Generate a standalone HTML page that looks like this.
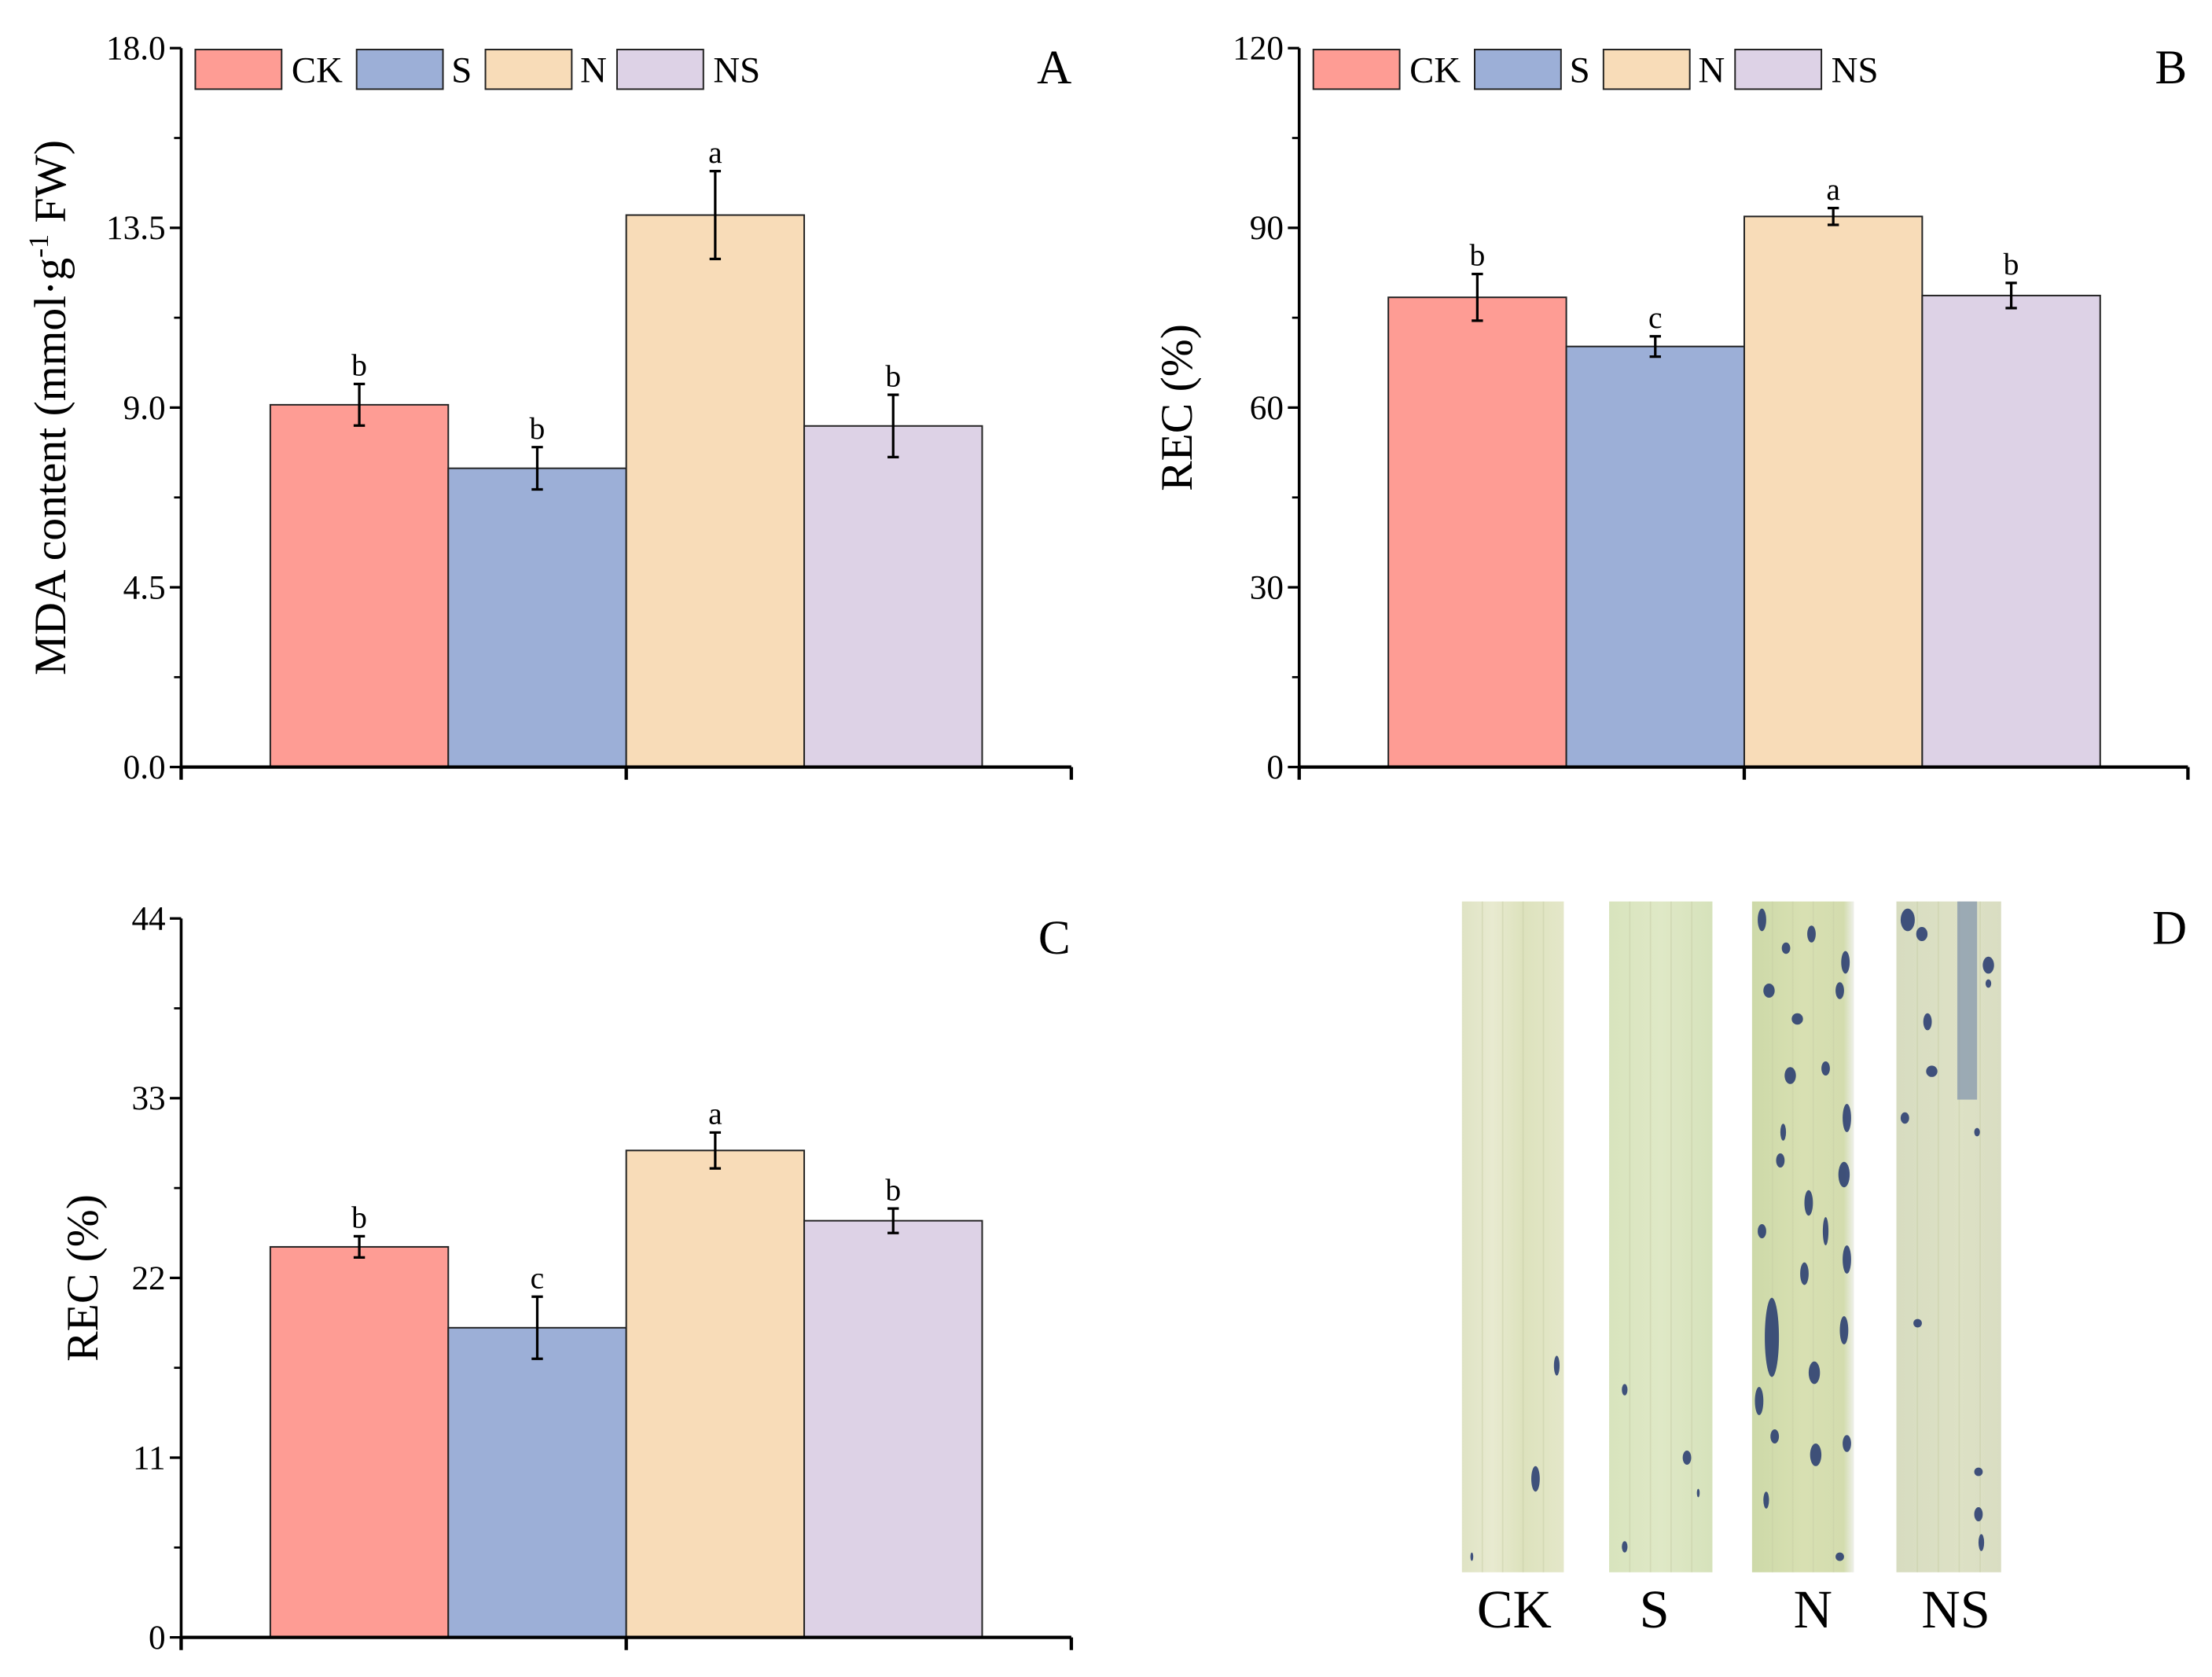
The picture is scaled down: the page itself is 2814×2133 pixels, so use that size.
<!DOCTYPE html>
<html><head><meta charset="utf-8"><style>
html,body{margin:0;padding:0;background:#fff}
svg{display:block}
text{font-family:"Liberation Serif",serif;fill:#000}
</style></head><body>
<svg id="fig" width="2814" height="2133" viewBox="0 0 1563 1185" preserveAspectRatio="none" xmlns="http://www.w3.org/2000/svg">
<defs>
<linearGradient id="leafG" x1="0" x2="1" y1="0" y2="0">
<stop offset="0" stop-color="#dfe3c4"/><stop offset="0.3" stop-color="#e8ead0"/><stop offset="0.6" stop-color="#dde2bd"/><stop offset="1" stop-color="#e4e7c9"/>
</linearGradient>
<linearGradient id="leafS" x1="0" x2="1"><stop offset="0" stop-color="#d8e4bd"/><stop offset="0.5" stop-color="#dfe8c6"/><stop offset="1" stop-color="#d6e2bb"/></linearGradient>
<linearGradient id="leafN" x1="0" x2="1"><stop offset="0" stop-color="#cdd9a8"/><stop offset="0.5" stop-color="#d8e0b2"/><stop offset="0.9" stop-color="#d3dcae"/><stop offset="1" stop-color="#eef0ea"/></linearGradient>
<linearGradient id="leafNS" x1="0" x2="1"><stop offset="0" stop-color="#d7dcc0"/><stop offset="0.6" stop-color="#dde1c5"/><stop offset="1" stop-color="#d9ddc2"/></linearGradient>
</defs>
<g id="root"></g>
</svg>
<script>
const groups = ["CK","S","N","NS"];
const colors = ["#fe9c94","#9cafd7","#f8dcb8","#ddd2e6"];
const mdaValues = [9.07, 7.48, 13.82, 8.54];
const mdaErrors = [0.52, 0.53, 1.1, 0.78];
const mdaLetters = ["b","b","a","b"];
const mdaTicks = ["0.0","4.5","9.0","13.5","18.0"];
const recBValues = [78.4, 70.2, 91.9, 78.7];
const recBErrors = [3.9, 1.7, 1.4, 2.1];
const recBLetters = ["b","c","a","b"];
const recBTicks = ["0","30","60","90","120"];
const recCValues = [23.9, 18.95, 29.8, 25.5];
const recCErrors = [0.65, 1.9, 1.1, 0.75];
const recCLetters = ["b","c","a","b"];
const recCTicks = ["0","11","22","33","44"];

const NS="http://www.w3.org/2000/svg";
const root=document.getElementById('root');
function mk(tag,attrs,parent){const e=document.createElementNS(NS,tag);for(const k in attrs)e.setAttribute(k,attrs[k]);(parent||root).appendChild(e);return e;}

function panel(o){
  const g=mk('g',{});
  
  
  const tickVals=o.ticks.map(Number);
  const maxV=tickVals[tickVals.length-1];
  const y=v=>o.y0-(v/maxV)*(o.y0-o.yTop);
  const bw=(o.barsEnd-o.barsStart)/o.values.length;
  o.values.forEach((v,i)=>{
    const r=mk('rect',{x:o.barsStart+i*bw,y:y(v),width:bw,height:o.y0-y(v),fill:colors[i],stroke:'#222','stroke-width':1.1},g);
    
    
    const cx=o.barsStart+(i+0.5)*bw, hi=y(v+o.errors[i]), lo=y(v-o.errors[i]);
    const eb=mk('path',{d:`M${cx},${hi}V${lo}M${cx-4},${hi}H${cx+4}M${cx-4},${lo}H${cx+4}`,stroke:'#000','stroke-width':1.8,fill:'none'},g);
    
    
    const t=mk('text',{x:cx,y:hi-6,'font-size':22,'text-anchor':'middle'},g);
    t.textContent=o.letters[i];
    
    
  });
  const ya=mk('path',{d:`M${o.x0},${o.y0+1}V${o.yTop}`,stroke:'#000','stroke-width':2,fill:'none'},g);
  
  
  const xa=mk('path',{d:`M${o.x0-1},${o.y0}H${o.xEnd}M${(o.barsStart+o.barsEnd)/2},${o.y0}v9M${o.xEnd},${o.y0}v9M${o.x0},${o.y0}v9`,stroke:'#000','stroke-width':2.4,fill:'none'},g);
  
  
  o.ticks.forEach((lab,i)=>{
    const v=tickVals[i], yy=y(v);
    mk('path',{d:`M${o.x0},${yy}h-8`,stroke:'#000','stroke-width':1.8},g);
    if(i<o.ticks.length-1){const ym=y(v+(tickVals[1]-tickVals[0])/2);mk('path',{d:`M${o.x0},${ym}h-5`,stroke:'#000','stroke-width':1.5},g);}
    const t=mk('text',{x:o.x0-11,y:yy+8,'font-size':24,'text-anchor':'end'},g);
    t.textContent=lab;
    
    
  });
  const yl=mk('text',{x:o.labelX,y:(o.y0+o.yTop)/2,'font-size':32,'text-anchor':'middle',transform:`rotate(-90 ${o.labelX} ${(o.y0+o.yTop)/2})`},g);
  yl.innerHTML=o.label;
  
  
  const pl=mk('text',{x:o.xEnd-12,y:o.yTop+25,'font-size':34,'text-anchor':'middle'},g);
  pl.textContent=o.letter;
  
  
  if(o.legend){
    const bx=[138,252,343,436], tx=[206,319,410,504];
    groups.forEach((gname,i)=>{
      const lg=mk('g',{},g);
      
      
      mk('rect',{x:bx[i]+o.dx,y:35,width:61,height:28,fill:colors[i],stroke:'#222','stroke-width':1.1},lg);
      const t=mk('text',{x:tx[i]+o.dx,y:58,'font-size':26},lg);
      t.textContent=gname;
    });
  }
}
panel({name:'panel-a-mda',values:mdaValues,errors:mdaErrors,letters:mdaLetters,ticks:mdaTicks,x0:128,y0:542,yTop:34,xEnd:757,barsStart:191,barsEnd:694,labelX:46,label:'MDA content (mmol·g<tspan dy="-12" font-size="20">-1</tspan><tspan dy="12"> FW)</tspan>',letter:'A',legend:true,dx:0});
panel({name:'panel-b-rec',values:recBValues,errors:recBErrors,letters:recBLetters,ticks:recBTicks,x0:918,y0:542,yTop:34,xEnd:1546,barsStart:981,barsEnd:1484,labelX:842,label:'REC (%)',letter:'B',legend:true,dx:790});
panel({name:'panel-c-rec',values:recCValues,errors:recCErrors,letters:recCLetters,ticks:recCTicks,x0:128,y0:1157,yTop:649,xEnd:757,barsStart:191,barsEnd:694,labelX:69,label:'REC (%)',letter:'C',legend:false,dx:0});

const pd=mk('g',{});


const leaves=[{n:'CK',x:1033,w:72,f:'url(#leafG)',lx:1070},{n:'S',x:1137,w:73,f:'url(#leafS)',lx:1169},{n:'N',x:1238,w:72,f:'url(#leafN)',lx:1281},{n:'NS',x:1340,w:74,f:'url(#leafNS)',lx:1382}];
const spots={
 CK:[[1100,965,2,7],[1085,1045,3,9],[1040,1100,1,3]],
 S:[[1148,982,2,4],[1192,1030,3,5],[1148,1093,2,4],[1200,1055,1,3]],
 N:[[1245,650,3,8],[1262,670,3,4],[1280,660,3,6],[1304,680,3,8],[1250,700,4,5],[1270,720,4,4],[1300,700,3,6],[1265,760,4,6],[1290,755,3,5],[1305,790,3,10],[1258,820,3,5],[1278,850,3,9],[1303,830,4,9],[1245,870,3,5],[1275,900,3,8],[1305,890,3,10],[1252,945,5,28],[1303,940,3,10],[1282,970,4,8],[1243,990,3,10],[1254,1015,3,5],[1283,1028,4,8],[1305,1020,3,6],[1248,1060,2,6],[1300,1100,3,3],[1290,870,2,10],[1260,800,2,6]],
 NS:[[1348,650,5,8],[1358,660,4,5],[1405,682,4,6],[1362,722,3,6],[1365,757,4,4],[1405,695,2,3],[1346,790,3,4],[1397,800,2,3],[1355,935,3,3],[1398,1040,3,3],[1398,1070,3,5],[1400,1090,2,6]]
};
leaves.forEach(l=>{
  const lg=mk('g',{},pd);
  
  
  mk('rect',{x:l.x,y:637,width:l.w,height:474,fill:l.f},lg);
  for(let k=1;k<5;k++) mk('line',{x1:l.x+k*l.w/5,y1:637,x2:l.x+k*l.w/5,y2:1111,stroke:'#c9cfa8','stroke-width':1,opacity:0.5},lg);
  if(l.n==='NS') mk('rect',{x:1383,y:637,width:14,height:140,fill:'#6f86a8',opacity:0.6},lg);
  spots[l.n].forEach(s=>mk('ellipse',{cx:s[0],cy:s[1],rx:s[2],ry:s[3],fill:'#23376f',opacity:0.85},lg));
  const t=mk('text',{x:l.lx,y:1150,'font-size':38,'text-anchor':'middle'},pd);
  t.textContent=l.n;
  
  
});
const dl=mk('text',{x:1533,y:667,'font-size':34,'text-anchor':'middle'},pd);
dl.textContent='D';


</script>
</body></html>
